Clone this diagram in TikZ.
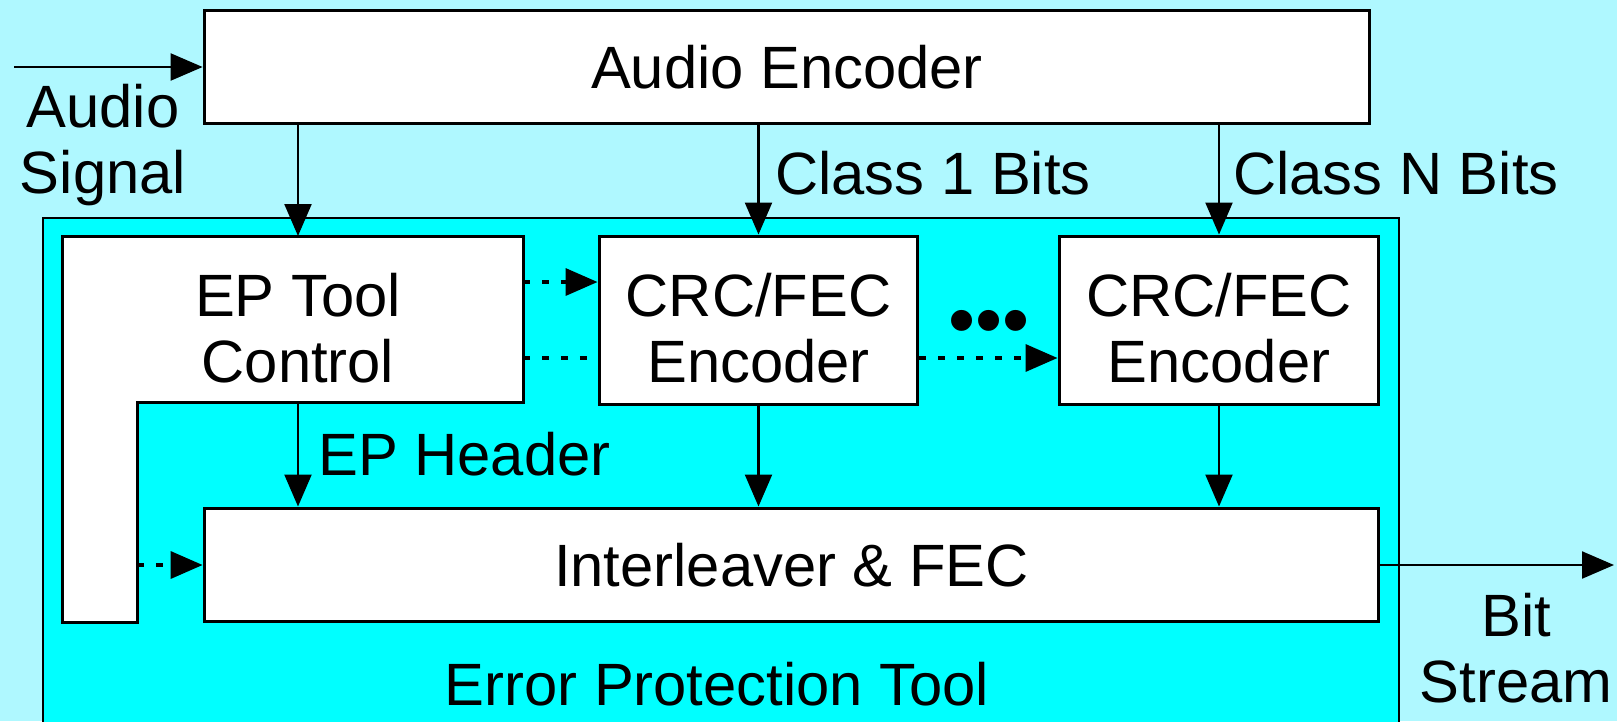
\documentclass[tikz,border=0pt]{standalone}
\usepackage{fontspec}
\setmainfont{Liberation Sans}
\usetikzlibrary{arrows.meta}
\definecolor{skycyan}{RGB}{175,248,255}
\definecolor{toolcyan}{RGB}{0,255,255}
\tikzset{
  block/.style={draw, fill=white, line width=0.06cm, inner sep=0pt, align=center},
  flow/.style={line width=0.045cm, -{Triangle[length=0.64cm,width=0.54cm]}},
  ctrl/.style={flow, line width=0.07cm, dash pattern=on 0.14cm off 0.24cm},
  tag/.style={inner sep=0pt, align=center},
}
\begin{document}
\begin{tikzpicture}[x=0.02cm, y=-0.02cm, font=\fontsize{34}{37.6}\selectfont]
\useasboundingbox (0,0) rectangle (1617,721);
\fill[skycyan] (0,0) rectangle (1617,721);
% error protection tool, runs off the bottom edge
\begin{scope}
  \clip (0,0) rectangle (1617,721);
  \filldraw[fill=toolcyan, line width=0.04cm] (43,730) -- (43,218) -- (1399,218) -- (1399,730);
\end{scope}
% L-shaped control block
\filldraw[fill=white, line width=0.06cm] (62,236) -- (523,236) -- (523,402) -- (137,402) -- (137,622) -- (62,622) -- cycle;
\coordinate (epnw) at (62,236);
\coordinate (epse) at (523,402);
\coordinate (epin) at (137,565);
\coordinate (in) at (14,67);
\coordinate (out) at (1614,565);

% blocks
\node[block, minimum width=23.32cm, minimum height=2.28cm] (ae) at (787,67) {Audio Encoder};
\node[tag] (ept) at (298,328) {EP Tool\\Control};
\node[block, minimum width=6.38cm, minimum height=3.38cm] (crc1) at (758.5,320.5) {\rule{0pt}{33pt}CRC/FEC\\Encoder};
\node[block, minimum width=6.4cm, minimum height=3.38cm] (crcn) at (1219,320.5) {\rule{0pt}{33pt}CRC/FEC\\Encoder};
\node[block, minimum width=23.5cm, minimum height=2.28cm] (il) at (791.5,565) {Interleaver \& FEC};
\node[tag, font=\fontsize{44}{44}\selectfont] (dots) at (989,328) {•••};

% labels
\node[tag] (sig) at (103,145) {Audio\\Signal};
\node[tag, anchor=west] (c1) at (775,173) {Class 1 Bits};
\node[tag, anchor=west] (cn) at (1233,173) {Class N Bits};
\node[tag, anchor=west] (hdr) at (318,454) {EP Header};
\node[tag] (bs) at (1516,648) {Bit\\Stream};
\node[tag] (ept2) at (717,684) {Error Protection Tool};

% data flow
\draw[flow] (in) -- (ae.west);
\draw[flow] (ae.south -| ept) -- (ept |- epnw);
\draw[flow] (ae.south -| crc1) -- (crc1.north);
\draw[flow] (ae.south -| crcn) -- (crcn.north);
\draw[flow] (ept |- epse) -- (ept |- il.north);
\draw[flow] (crc1.south) -- (crc1.south |- il.north);
\draw[flow] (crcn.south) -- (crcn.south |- il.north);
\draw[flow] (il.east) -- (out);

% control lines
\coordinate (hi) at ([yshift=0.77cm]crc1.west);
\coordinate (lo) at ([yshift=-0.75cm]crc1.west);
\draw[ctrl] (hi -| epse) -- (hi);
\draw[ctrl, -] (lo -| epse) -- (lo);
\draw[ctrl] (lo -| crc1.east) -- (lo -| crcn.west);
\draw[ctrl] (epin) -- (epin -| il.west);
\end{tikzpicture}
\end{document}
